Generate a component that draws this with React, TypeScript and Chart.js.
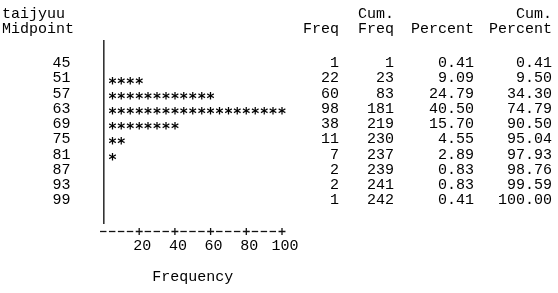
import { useEffect, useRef } from 'react';
import { Chart, registerables } from 'chart.js';

Chart.register(...registerables);

// ---- data ----
const midpoints = ['45', '51', '57', '63', '69', '75', '81', '87', '93', '99'];
const freq = [1, 22, 60, 98, 38, 11, 7, 2, 2, 1];
const cumFreq = [1, 23, 83, 181, 219, 230, 237, 239, 241, 242];
const percent = ['0.41', '9.09', '24.79', '40.50', '15.70', '4.55', '2.89', '0.83', '0.83', '0.41'];
const cumPercent = ['0.41', '9.50', '34.30', '74.79', '90.50', '95.04', '97.93', '98.76', '99.59', '100.00'];
const xTickStep = 20;
const xMax = 100;
const unitPerSymbol = 5;
const varName = 'taijyuu';

const FONT_FAMILY = "'Liberation Mono', 'DejaVu Sans Mono', monospace";
const FONT_SIZE = 15;
const FONT = `${FONT_SIZE}px ${FONT_FAMILY}`;
const STAR_FONT = "bold 15px 'DejaVu Sans Mono', monospace";

// table columns: [header line 1, header line 2, values, right edge x]
const tableCols: [string, string, (string | number)[], number][] = [
  ['', 'Freq', freq, 339],
  ['Cum.', 'Freq', cumFreq, 394],
  ['', 'Percent', percent, 474],
  ['Cum.', 'Percent', cumPercent, 552],
];

const sasPlugin = {
  id: 'sasText',
  afterDatasetsDraw(chart: any) {
    const { ctx, chartArea, scales } = chart;
    const x = scales.x;
    const y = scales.y;
    ctx.save();
    ctx.fillStyle = '#000';

    // asterisk bars
    ctx.font = STAR_FONT;
    const meta = chart.getDatasetMeta(0);
    const data = chart.data.datasets[0].data;
    ctx.textAlign = 'center';
    ctx.textBaseline = 'alphabetic';
    const m = ctx.measureText('*');
    const astShift = (m.actualBoundingBoxAscent - m.actualBoundingBoxDescent) / 2;
    meta.data.forEach((bar: any, i: number) => {
      const v = data[i];
      if (v == null) return;
      const n = Math.round(v / unitPerSymbol);
      for (let k = 1; k <= n; k++) {
        ctx.fillText('*', x.getPixelForValue(k * unitPerSymbol), bar.y + 2 + astShift);
      }
    });

    // axis line of dashes and pluses
    const nCols = xMax / unitPerSymbol;
    const perTick = xTickStep / unitPerSymbol;
    const axisY = chartArea.bottom + 8.5;
    const half = (x.getPixelForValue(unitPerSymbol) - x.getPixelForValue(0)) / 2;
    ctx.strokeStyle = '#111';
    ctx.lineWidth = 1.3;
    for (let c = 0; c <= nCols; c++) {
      const px = x.getPixelForValue(c * unitPerSymbol);
      ctx.beginPath();
      if (c > 0 && c % perTick === 0) {
        ctx.moveTo(px - half + 1, axisY);
        ctx.lineTo(px + half - 1, axisY);
        ctx.moveTo(px, axisY - 3.5);
        ctx.lineTo(px, axisY + 3.5);
      } else {
        ctx.moveTo(px - half + 1, axisY);
        ctx.lineTo(px + half - 1.5, axisY);
      }
      ctx.stroke();
    }

    // table on the right
    ctx.font = FONT;
    ctx.textBaseline = 'middle';
    ctx.textAlign = 'right';
    const rowH = y.getPixelForValue(2) - y.getPixelForValue(1);
    const h2 = chartArea.top - 11;
    const h1 = h2 - rowH;
    tableCols.forEach(([l1, l2, vals, rx]) => {
      if (l1) ctx.fillText(l1, rx, h1);
      ctx.fillText(l2, rx, h2);
      vals.forEach((v, i) => {
        ctx.fillText(String(v), rx, y.getPixelForValue(i + 1));
      });
    });
    ctx.restore();
  },
};

export default function App() {
  const ref = useRef<HTMLCanvasElement | null>(null);
  useEffect(() => {
    document.body.style.margin = '0';
    if (!ref.current) return;
    const labels = ['', ...midpoints, ''];
    const values = [null, ...freq, null];
    const chart = new Chart(ref.current, {
      type: 'bar',
      data: {
        labels,
        datasets: [
          {
            data: values as any,
            backgroundColor: 'rgba(0,0,0,0)',
            borderWidth: 0,
          },
        ],
      },
      options: {
        indexAxis: 'y',
        animation: false,
        responsive: false,
        layout: { padding: { left: 2, right: 276, top: 0, bottom: 0 } },
        plugins: {
          legend: { display: false },
          tooltip: { enabled: false },
          title: {
            display: true,
            text: [varName, 'Midpoint'],
            align: 'start',
            color: '#000',
            font: { family: FONT_FAMILY, size: FONT_SIZE, weight: 'normal', lineHeight: 1 },
            padding: { top: 5, bottom: 4 },
          },
        },
        scales: {
          y: {
            type: 'category',
            grid: { display: false, drawTicks: false },
            border: { display: true, color: '#333', width: 1.6 },
            ticks: {
              autoSkip: false,
              padding: 33,
              color: '#000',
              font: { family: FONT_FAMILY, size: FONT_SIZE, lineHeight: 1 },
            },
            afterFit: (s: any) => {
              s.width = 101.5;
            },
          },
          x: {
            type: 'linear',
            min: 0,
            max: xMax,
            grid: { display: false, drawTicks: false },
            border: { display: false },
            ticks: {
              stepSize: xTickStep,
              padding: 15.5,
              labelOffset: 3,
              color: '#000',
              font: { family: FONT_FAMILY, size: FONT_SIZE, lineHeight: 1 },
              callback: (v: any) => (v === 0 ? '' : String(v)),
            },
            title: {
              display: true,
              text: 'Frequency',
              color: '#000',
              font: { family: FONT_FAMILY, size: FONT_SIZE, lineHeight: 1 },
              padding: { top: 0, bottom: 8.5 },
            },
            afterFit: (s: any) => {
              s.height = 70;
            },
          },
        },
      },
      plugins: [sasPlugin],
    });
    return () => chart.destroy();
  }, []);
  return (
    <div style={{ width: 558, height: 293 }}>
      <canvas ref={ref} width={558} height={293} />
    </div>
  );
}
